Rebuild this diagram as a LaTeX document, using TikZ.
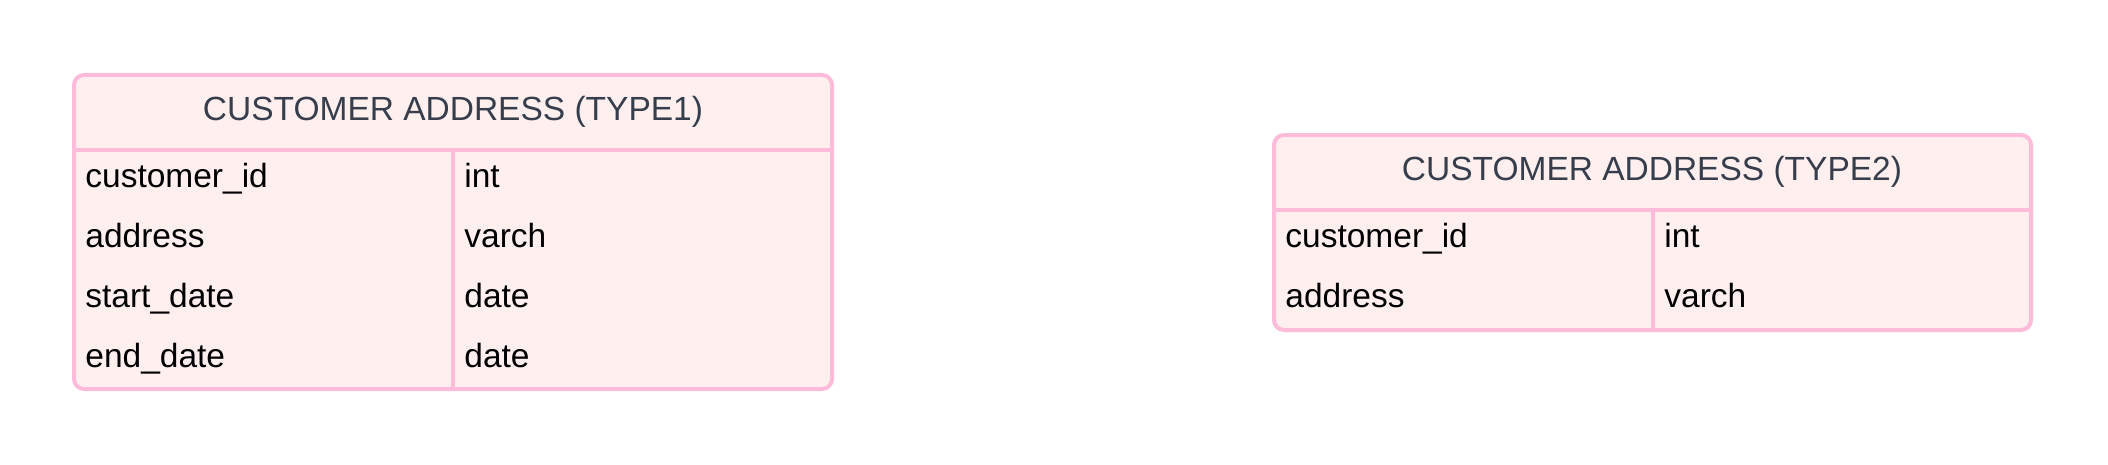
\documentclass[tikz,border=0pt]{standalone}
\usepackage{fontspec}
\setmainfont{Liberation Sans}
\usepackage{tikz}
\usetikzlibrary{positioning}
\definecolor{rowfill}{HTML}{FFEFEF}
\definecolor{rimpink}{HTML}{FFBBDA}
\definecolor{titlegray}{HTML}{363E4C}

\begin{document}
\begin{tikzpicture}[
    x=0.5pt, y=-0.5pt,
    tbl/.style={draw=rimpink, fill=rowfill, line width=2pt, rounded corners=5pt},
    rule/.style={draw=rimpink, line width=2pt},
    ttl/.style={font=\fontsize{16.75}{20}\selectfont, text=titlegray, anchor=base, inner sep=0pt},
    cell/.style={font=\fontsize{16.75}{20}\selectfont, anchor=base west, inner sep=0pt},
  ]
    \useasboundingbox (0,0) rectangle (2108,465);

    % ---------- type 1 ----------
    \draw[tbl] (74,75) rectangle (832,389);
    \coordinate (h1l) at (74,150);
    \coordinate (h1r) at (832,150);
    \coordinate (d1b) at (453,389);
    \draw[rule] (h1l) -- (h1r);
    \draw[rule] (h1l -| d1b) -- (d1b);
    \node[ttl] (t1title) at (453,120) {CUSTOMER ADDRESS (TYPE1)};
    \foreach \f/\t [count=\i] in {customer\_id/int, address/varch, start\_date/date, end\_date/date} {
      \node[cell] (t1f\i) at (85,127+60*\i) {\f};
      \node[cell] (t1t\i) at (464,127+60*\i) {\t};
    }

    % ---------- type 2 ----------
    \draw[tbl] (1274,135) rectangle (2031,330);
    \coordinate (h2l) at (1274,210);
    \coordinate (h2r) at (2031,210);
    \coordinate (d2b) at (1653,330);
    \draw[rule] (h2l) -- (h2r);
    \draw[rule] (h2l -| d2b) -- (d2b);
    \node[ttl] (t2title) at (1652,180) {CUSTOMER ADDRESS (TYPE2)};
    \foreach \f/\t [count=\i] in {customer\_id/int, address/varch} {
      \node[cell] (t2f\i) at (1285,187+60*\i) {\f};
      \node[cell] (t2t\i) at (1664,187+60*\i) {\t};
    }
\end{tikzpicture}
\end{document}
